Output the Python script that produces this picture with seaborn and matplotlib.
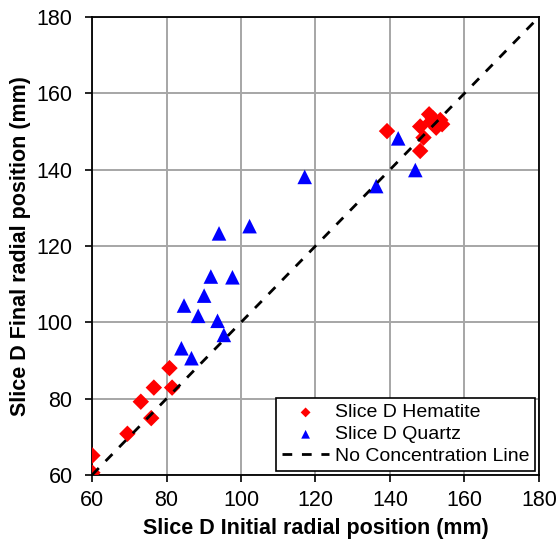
import numpy as np
import pandas as pd
import matplotlib
matplotlib.use("Agg")
import matplotlib.pyplot as plt
import seaborn as sns

hem_x = [60.1, 60.1, 69.5, 73.1, 75.9, 76.6, 80.8, 81.5, 139.2, 148.1, 149.0, 148.1,
         150.5, 151.5, 153.5, 154.0, 152.4, 151.0]
hem_y = [65.1, 60.6, 70.8, 79.2, 74.9, 82.9, 88.0, 82.9, 150.1, 151.3, 148.4, 144.9,
         154.5, 153.5, 153.0, 151.9, 151.0, 152.6]
qtz_x = [142.2, 146.8, 136.3, 117.1, 94.1, 102.3, 91.9, 97.7, 90.1, 84.7, 88.5, 93.7,
         95.4, 84.0, 86.7]
qtz_y = [148.2, 139.9, 135.7, 138.1, 123.3, 125.2, 112.0, 111.8, 107.0, 104.4, 101.7,
         100.4, 96.7, 93.2, 90.6]
line_xy = [60, 180]
ticks = [60, 80, 100, 120, 140, 160, 180]

sns.set_style("white")
plt.rcParams['font.family'] = ['Liberation Sans', 'DejaVu Sans']
plt.rcParams['text.color'] = 'black'
plt.rcParams['axes.labelcolor'] = 'black'
plt.rcParams['xtick.color'] = 'black'
plt.rcParams['ytick.color'] = 'black'

fig = plt.figure(figsize=(5.59, 5.41), dpi=100)
ax = fig.add_axes([0.1646, 0.122, 0.7996, 0.8466])

df_h = pd.DataFrame({"x": hem_x, "y": hem_y})
df_q = pd.DataFrame({"x": qtz_x, "y": qtz_y})

ax.grid(True, color="#a6a6a6", linewidth=1.4, zorder=0)
ax.set_axisbelow(True)

sns.scatterplot(data=df_h, x="x", y="y", ax=ax, marker="D", color="#ff0000",
                s=70, edgecolor="none", label="Slice D Hematite", zorder=3)
sns.scatterplot(data=df_q, x="x", y="y", ax=ax, marker="^", color="#0000ff",
                s=110, edgecolor="none", label="Slice D Quartz", zorder=3)
sns.lineplot(x=line_xy, y=line_xy, ax=ax, color="black", linewidth=2,
             label="No Concentration Line", zorder=4)
ax.lines[-1].set_linestyle((0, (3.5, 3.5)))

ax.set_xlim(60, 180)
ax.set_ylim(60, 180)
ax.set_xticks(ticks)
ax.set_yticks(ticks)
ax.tick_params(axis="both", labelsize=15.5, direction="out", length=5, width=1.2,
               color="black", labelcolor="black", left=True, bottom=True)
ax.tick_params(axis="x", pad=6)
ax.tick_params(axis="y", pad=9)
for side in ["left", "bottom", "top", "right"]:
    ax.spines[side].set_color("black")
    ax.spines[side].set_linewidth(1.3)

ax.set_xlabel("Slice D Initial radial position (mm)", fontsize=15.5, fontweight="bold",
              labelpad=5, color="black")
ax.set_ylabel("Slice D Final radial position (mm)", fontsize=15.5, fontweight="bold",
              labelpad=4, color="black")

leg = ax.legend(loc="lower right", fontsize=14, frameon=True, fancybox=False,
                edgecolor="black", framealpha=1, markerscale=0.6, borderpad=0.3,
                labelspacing=0.22, handlelength=2.4, handletextpad=0.3,
                borderaxespad=0.2)
leg.get_frame().set_linewidth(1.2)
for t in leg.get_texts():
    t.set_color("black")

fig.savefig("out.png", dpi=100)
